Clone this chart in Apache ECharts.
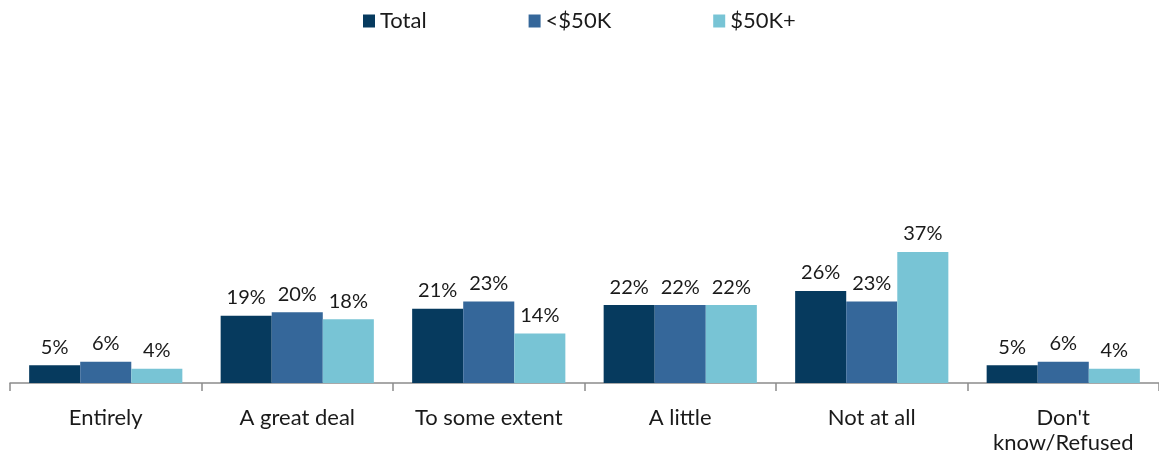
<!DOCTYPE html>
<html>
<head>
<meta charset="utf-8">
<script src="https://cdn.jsdelivr.net/npm/echarts@6/dist/echarts.min.js"></script>
<style>
  html, body { margin: 0; padding: 0; background: #fff; }
  #chart { width: 1159px; height: 461px; }
</style>
</head>
<body>
<div id="chart"></div>
<script>
var categories = ['Entirely', 'A great deal', 'To some extent', 'A little', 'Not at all', "Don't\nknow/Refused"];
var seriesNames = ['Total', '<$50K', '$50K+'];
var totalVals = [5, 19, 21, 22, 26, 5];
var under50Vals = [6, 20, 23, 22, 23, 6];
var over50Vals = [4, 18, 14, 22, 37, 4];
var colors = ['#063a5e', '#35679a', '#78c4d5'];

var chart = echarts.init(document.getElementById('chart'));

function makeSeries(name, data, color) {
    return {
        name: name,
        type: 'bar',
        data: data,
        barGap: '0%',
        barCategoryGap: '20%',
        itemStyle: { color: color },
        label: {
            show: true,
            position: 'top',
            distance: 8,
            formatter: '{c}%',
            color: '#1a1a1a',
            fontSize: 20,
            fontFamily: 'Lato'
        }
    };
}

var option = {
    animation: false,
    color: colors,
    legend: {
        top: 5,
        left: 358,
        itemWidth: 12,
        itemHeight: 13,
        itemGap: 102,
        icon: 'rect',
        textStyle: { fontSize: 22, fontFamily: 'Lato', color: '#1a1a1a' },
        data: seriesNames
    },
    grid: { left: 10, right: -1, top: 29, bottom: 78 },
    xAxis: {
        type: 'category',
        data: categories,
        axisLine: { lineStyle: { color: '#8c8c8c', width: 1.5 } },
        axisTick: { show: true, length: 8, lineStyle: { color: '#8c8c8c', width: 1.5 } },
        axisLabel: {
            interval: 0,
            margin: 22,
            fontSize: 22,
            lineHeight: 25,
            fontFamily: 'Lato',
            color: '#1a1a1a'
        }
    },
    yAxis: {
        type: 'value',
        min: 0,
        max: 100,
        show: false,
        splitLine: { show: false }
    },
    series: [
        makeSeries(seriesNames[0], totalVals, colors[0]),
        makeSeries(seriesNames[1], under50Vals, colors[1]),
        makeSeries(seriesNames[2], over50Vals, colors[2])
    ]
};

chart.setOption(option);
</script>
</body>
</html>
